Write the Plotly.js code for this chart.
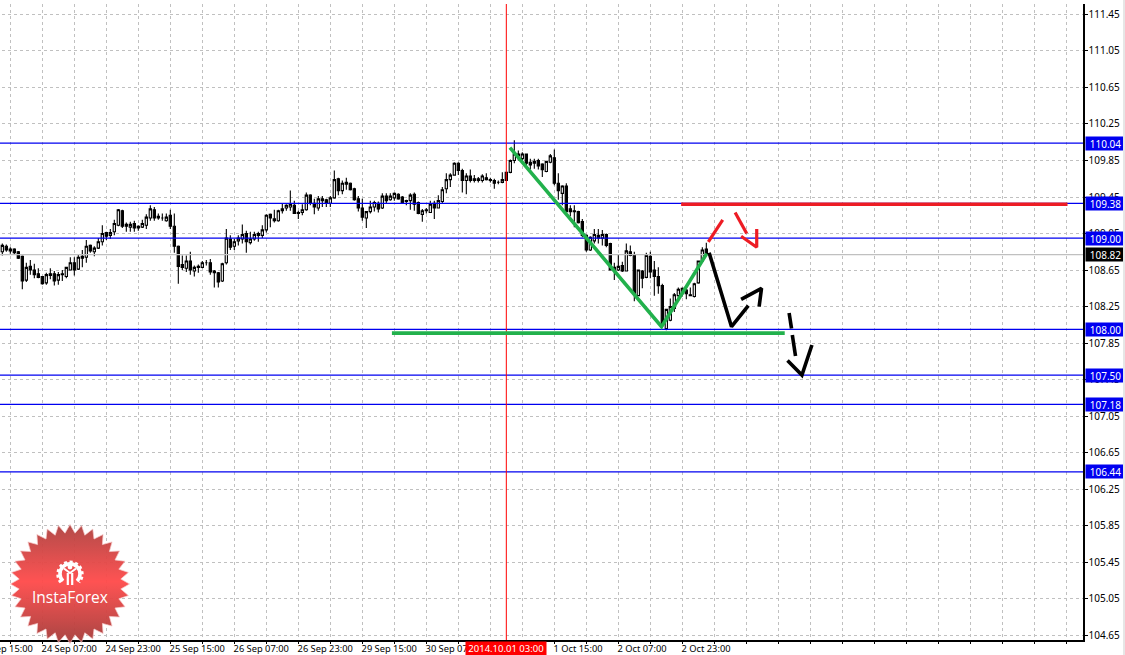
<!DOCTYPE html>
<html>
<head>
<meta charset="utf-8">
<script src="https://cdn.plot.ly/plotly-3.0.1.min.js"></script>
<style>
html,body{margin:0;padding:0;background:#fff;overflow:hidden;width:1125px;height:655px}
#chart{position:absolute;left:-40px;top:0}
#edge{position:absolute;left:1123px;top:0;width:2px;height:655px;background:#e6e6e6}
</style>
</head>
<body>
<div id="chart"></div>
<div id="edge"></div>
<script>
const open_ = [108.85,108.91,108.88,108.88,108.85,108.80,108.54,108.69,108.65,108.61,108.58,108.51,108.61,108.61,108.54,108.60,108.58,108.65,108.73,108.66,108.80,108.79,108.92,108.85,108.89,108.96,109.06,109.03,109.07,109.14,109.30,109.15,109.12,109.16,109.13,109.12,109.14,109.22,109.31,109.24,109.22,109.19,109.25,109.13,108.91,108.71,108.67,108.75,108.64,108.69,108.68,108.73,108.73,108.64,108.62,108.53,108.73,108.99,108.91,108.97,108.99,109.05,108.95,108.99,109.03,
109.03,109.09,109.26,109.21,109.19,109.30,109.33,109.34,109.36,109.27,109.28,109.31,109.47,109.38,109.33,109.41,109.42,109.38,109.44,109.65,109.52,109.59,109.60,109.54,109.43,109.33,109.22,109.29,109.34,109.38,109.33,109.46,109.42,109.44,109.48,109.45,109.40,109.41,109.48,109.39,109.26,109.30,109.28,109.38,109.33,109.40,109.54,109.64,109.69,109.82,109.74,109.63,109.68,109.65,109.65,109.63,109.66,109.63,109.63,109.61,
109.61,109.72,109.72,109.85,109.92,109.87,109.92,109.83,109.82,109.85,109.81,109.73,109.83,109.88,109.60,109.49,109.57,109.32,109.30,109.29,109.18,109.03,108.87,108.97,109.03,109.00,109.04,108.94,108.68,108.65,108.70,108.64,108.85,108.81,108.37,108.64,108.57,108.80,108.65,108.58,108.48,108.01,108.10,108.23,108.37,108.45,108.43,108.38,108.36,108.51,108.75,108.88];
const high_ = [108.94,108.93,108.90,108.89,108.86,108.81,108.73,108.76,108.72,108.67,108.58,108.62,108.67,108.64,108.63,108.65,108.68,108.79,108.79,108.82,108.87,108.98,108.93,108.91,109.00,109.14,109.07,109.10,109.20,109.32,109.31,109.17,109.18,109.19,109.14,109.20,109.26,109.36,109.34,109.27,109.27,109.27,109.31,109.27,108.92,108.81,108.81,108.85,108.70,108.71,108.75,108.76,108.77,108.65,108.63,108.73,109.10,109.03,108.99,109.03,109.15,109.08,109.07,109.07,109.07,
109.14,109.26,109.27,109.31,109.31,109.38,109.37,109.52,109.41,109.30,109.37,109.50,109.48,109.43,109.46,109.46,109.43,109.46,109.74,109.66,109.63,109.66,109.61,109.55,109.46,109.43,109.29,109.41,109.41,109.40,109.49,109.49,109.49,109.50,109.49,109.46,109.42,109.49,109.50,109.40,109.32,109.33,109.41,109.41,109.47,109.56,109.71,109.71,109.83,109.83,109.76,109.71,109.75,109.69,109.67,109.70,109.71,109.66,109.65,109.63,
109.72,109.72,109.86,110.07,109.96,109.94,109.92,109.87,109.87,109.87,109.82,109.84,109.92,109.97,109.71,109.58,109.60,109.36,109.36,109.30,109.21,109.04,109.02,109.10,109.10,109.09,109.05,108.95,108.73,108.82,108.74,108.94,108.92,108.85,108.65,108.65,108.84,108.85,108.75,108.68,108.50,108.22,108.34,108.40,108.46,108.46,108.45,108.46,108.51,108.75,108.90,108.95];
const low_ = [108.81,108.85,108.83,108.82,108.77,108.44,108.52,108.60,108.56,108.56,108.49,108.49,108.55,108.48,108.49,108.53,108.56,108.65,108.59,108.65,108.68,108.73,108.84,108.80,108.88,108.92,108.98,108.99,109.03,109.13,109.11,109.07,109.07,109.07,109.08,109.11,109.10,109.19,109.19,109.20,109.19,109.18,109.10,108.84,108.50,108.65,108.63,108.60,108.58,108.62,108.67,108.70,108.60,108.46,108.46,108.52,108.71,108.87,108.87,108.92,108.94,108.84,108.93,108.97,108.96,
109.00,109.06,109.12,109.17,109.18,109.27,109.30,109.30,109.27,109.21,109.25,109.30,109.36,109.26,109.30,109.34,109.34,109.34,109.43,109.47,109.48,109.53,109.52,109.41,109.29,109.19,109.11,109.27,109.29,109.28,109.32,109.38,109.41,109.41,109.42,109.38,109.36,109.31,109.30,109.26,109.18,109.27,109.28,109.21,109.33,109.38,109.49,109.56,109.69,109.69,109.50,109.48,109.61,109.61,109.61,109.61,109.63,109.61,109.54,109.59,
109.60,109.63,109.71,109.82,109.85,109.82,109.80,109.75,109.76,109.75,109.67,109.72,109.82,109.58,109.42,109.36,109.29,109.24,109.12,109.16,109.01,108.85,108.86,108.94,108.94,108.92,108.90,108.65,108.54,108.64,108.63,108.64,108.80,108.31,108.37,108.45,108.56,108.56,108.37,108.39,108.03,107.99,108.09,108.19,108.34,108.36,108.33,108.37,108.35,108.50,108.74,108.81];
const close_ = [108.92,108.87,108.86,108.84,108.78,108.53,108.68,108.65,108.60,108.57,108.50,108.60,108.59,108.53,108.60,108.61,108.68,108.73,108.65,108.79,108.78,108.91,108.86,108.89,108.96,109.05,109.02,109.06,109.16,109.31,109.13,109.13,109.15,109.11,109.11,109.16,109.23,109.32,109.22,109.22,109.22,109.23,109.13,108.91,108.69,108.68,108.75,108.65,108.68,108.68,108.73,108.73,108.63,108.62,108.52,108.72,109.00,108.90,108.96,109.00,109.04,108.96,108.99,109.04,109.05,
109.09,109.25,109.22,109.19,109.30,109.32,109.36,109.37,109.27,109.28,109.31,109.47,109.38,109.34,109.43,109.43,109.38,109.44,109.64,109.52,109.60,109.61,109.53,109.42,109.33,109.23,109.29,109.34,109.39,109.32,109.46,109.41,109.46,109.49,109.43,109.39,109.41,109.47,109.37,109.27,109.30,109.31,109.37,109.33,109.41,109.53,109.64,109.69,109.82,109.74,109.63,109.68,109.63,109.63,109.63,109.68,109.64,109.64,109.60,109.61,
109.64,109.63,109.85,109.92,109.90,109.92,109.82,109.80,109.84,109.79,109.75,109.84,109.90,109.60,109.52,109.57,109.29,109.29,109.29,109.17,109.03,108.87,109.01,109.04,109.00,109.04,108.92,108.65,108.65,108.69,108.64,108.86,108.81,108.39,108.65,108.56,108.81,108.63,108.58,108.48,108.06,108.22,108.25,108.38,108.44,108.39,108.39,108.37,108.50,108.75,108.87,108.82];

const priceTicks = [111.45,111.05,110.65,110.25,109.85,109.45,109.05,108.65,108.25,107.85,107.45,107.05,106.65,106.25,105.85,105.45,105.05,104.65];
const gridBars = [-6,2,10,18,26,34,42,50,58,66,74,82,90,98,106,114,122,130,138,146,154,162,170,178,186,194,202,210,218,226,234,242,250,258,266];
const timeLabels = ["23 Sep 15:00","","24 Sep 07:00","","24 Sep 23:00","","25 Sep 15:00","","26 Sep 07:00","","26 Sep 23:00","","29 Sep 15:00","","30 Sep 07:00","","","","1 Oct 15:00","","2 Oct 07:00","","2 Oct 23:00","","","","","","","","","","","",""];
const levels = [110.04,109.38,109.00,108.00,107.50,107.18,106.44];
const currentPrice = 108.82;
const cursorBar = 126;
const cursorLabel = "2014.10.01 03:00";

const greenVX = [126.9,164.8,176.1];
const greenVY = [109.99,108.03,108.83];
const greenHX = [97.4,195.6];
const greenHY = [107.96,107.96];
const redHX = [169.7,266.3];
const redHY = [109.37,109.37];
const redPaths = [
  [[176.5,180.1],[108.96,109.20]],
  [[183.2,186.1],[109.28,109.05]],
  [[184.7,188.6,188.6],[109.02,108.90,109.10]]
];
const blackPaths = [
  [[176.7,182.3,186.5],[108.84,108.03,108.26]],
  [[184.7,189.8,189.2],[108.33,108.45,108.25]],
  [[196.7,197.3],[108.18,108.01]],
  [[197.5,198.3],[107.94,107.71]],
  [[196.3,199.9,202.4],[107.66,107.50,107.83]]
];

const FONT = 'Noto Sans, sans-serif';
const bars = open_.map((_, i) => i);
const xRange = [-10.58, 270.17];
const yRange = [104.60, 111.563];

const lineTrace = (x, y, color, width) => ({type:'scatter', mode:'lines', x, y, hoverinfo:'skip', showlegend:false, line:{color, width, shape:'linear'}});

const traces = [];
traces.push(lineTrace(xRange, [currentPrice,currentPrice], '#c0c0c0', 1.3));
levels.forEach(v => traces.push(lineTrace(xRange, [v,v], '#0000f0', 1.3)));
traces.push(lineTrace([cursorBar,cursorBar], yRange, '#ff0000', 1));
traces.push({
  type:'candlestick', x:bars, open:open_, high:high_, low:low_, close:close_, showlegend:false, whiskerwidth:0,
  increasing:{line:{color:'#000',width:1.1}, fillcolor:'#fff'},
  decreasing:{line:{color:'#000',width:1.1}, fillcolor:'#000'}
});
traces.push(lineTrace(greenVX, greenVY, '#22b14c', 3.6));
traces.push(lineTrace(greenHX, greenHY, '#22b14c', 3.6));
traces.push(lineTrace(redHX, redHY, '#ed1c24', 3.6));
redPaths.forEach(p => traces.push(lineTrace(p[0], p[1], '#ed1c24', 3.2)));
blackPaths.forEach(p => traces.push(lineTrace(p[0], p[1], '#000', 3.6)));

function badge() {
  const n = 32, R = 59.5, r = 51, c = 62;
  let d = '';
  for (let k = 0; k < 2*n; k++) {
    const a = Math.PI*k/n - Math.PI/2, q = k%2 ? r : R;
    d += (k?'L':'M') + (c+q*Math.cos(a)).toFixed(1) + ' ' + (c+q*Math.sin(a)).toFixed(1);
  }
  d += 'Z';
  const svg = `<svg xmlns="http://www.w3.org/2000/svg" width="124" height="124" viewBox="0 0 124 124">
<defs><linearGradient id="g" x1="0" y1="0" x2="0" y2="1"><stop offset="0" stop-color="#b04442"/><stop offset="0.48" stop-color="#ff4c4c"/><stop offset="1" stop-color="#a53e3c"/></linearGradient></defs>
<path d="${d}" fill="url(#g)" stroke="#f6c8c8" stroke-width="0.7"/>
<g fill="none" stroke="#fff">
<path d="M55 59 A 10 10 0 1 1 69 59" stroke-width="3.6"/>
<path d="M52.8 60.5 A 12.4 12.4 0 1 1 71.2 60.5" stroke-width="2.6" stroke-dasharray="3 2.6"/>
<path d="M59.8 51 V63 M64.2 51 V63" stroke-width="2.2"/>
<path d="M56 46.5 L62 51 L68 46.5" stroke-width="2"/>
</g><circle cx="62" cy="45" r="2.4" fill="#fff"/></svg>`;
  return 'data:image/svg+xml;base64,' + btoa(svg);
}

const tag = (v, bg) => ({
  xref:'paper', yref:'y', x:1, y:v, xanchor:'left', yanchor:'middle', xshift:1.5, text:v.toFixed(2), showarrow:false,
  bgcolor:bg, width:37, height:11, borderpad:1, font:{family:FONT, size:10, color:'#fff'}
});

const annotations = levels.map(v => tag(v,'#0000f0'));
annotations.push(tag(currentPrice,'#000'));
annotations.push({
  xref:'x', yref:'paper', x:cursorBar, y:-0.0016, xanchor:'center', yanchor:'top', text:cursorLabel, showarrow:false,
  bgcolor:'#f00', width:78, height:11, borderpad:1, font:{family:FONT, size:9.5, color:'#fff'}
});
annotations.push({
  xref:'paper', yref:'paper', x:(70+40)/1123, y:(640-597)/636, xanchor:'center', yanchor:'middle', text:'InstaForex', showarrow:false,
  font:{family:'Open Sans, sans-serif', size:15.5, color:'#fff'}
});

const layout = {
  width:1165, height:655, autosize:false,
  margin:{l:0, r:42, t:4, b:15, pad:0},
  paper_bgcolor:'#fff', plot_bgcolor:'#fff', showlegend:false, hovermode:false, boxgap:0.2,
  xaxis:{
    type:'linear', range:xRange, rangeslider:{visible:false}, tickmode:'array', tickvals:gridBars, ticktext:timeLabels, tickangle:0,
    ticklabelposition:'outside right', ticklabelshift:-2, ticklabelstandoff:-1, ticks:'outside', ticklen:2, tickwidth:1, tickcolor:'#000',
    showgrid:true, gridcolor:'#c0c0c0', griddash:'3px,3px', gridwidth:1, zeroline:false, showline:true, linecolor:'#000', linewidth:1.5,
    tickfont:{family:FONT, size:9.3, color:'#000'}, automargin:false
  },
  yaxis:{
    side:'right', range:yRange, tickmode:'array', tickvals:priceTicks, ticktext:priceTicks.map(v=>v.toFixed(2)),
    ticks:'outside', ticklen:3, tickwidth:1, tickcolor:'#000', ticklabelstandoff:-1,
    showgrid:true, gridcolor:'#c0c0c0', griddash:'3px,3px', gridwidth:1, zeroline:false, showline:true, linecolor:'#000', linewidth:1.5,
    tickfont:{family:FONT, size:10, color:'#000'}, automargin:false
  },
  annotations,
  images:[{source:badge(), xref:'paper', yref:'paper', x:(8+40)/1123, y:(640-522)/636, sizex:124/1123, sizey:124/636, xanchor:'left', yanchor:'top', sizing:'stretch', layer:'above', opacity:0.96}]
};
Plotly.newPlot('chart', traces, layout, {displayModeBar:false, staticPlot:true});
</script>
</body>
</html>
